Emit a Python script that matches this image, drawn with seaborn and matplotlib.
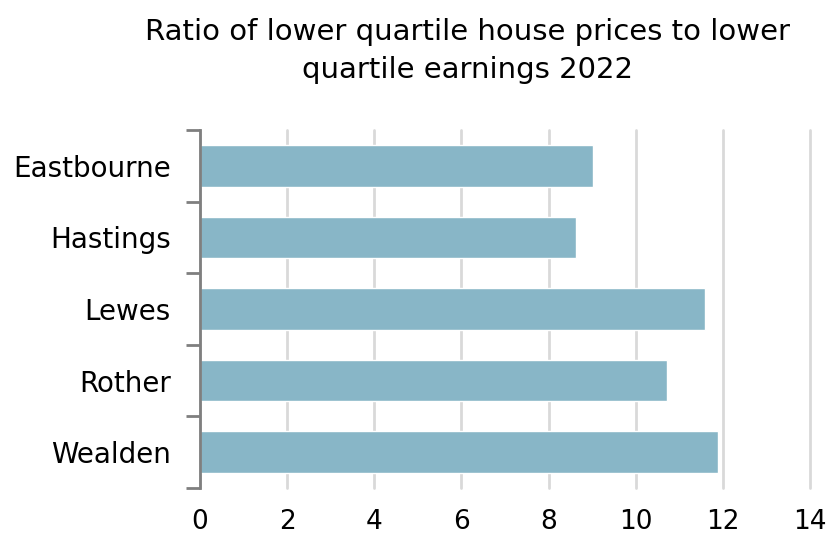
import matplotlib
matplotlib.use("Agg")
import matplotlib.pyplot as plt
import seaborn as sns
import pandas as pd

areas = ["Eastbourne", "Hastings", "Lewes", "Rother", "Wealden"]
ratios = [9.02, 8.62, 11.59, 10.71, 11.88]
x_ticks = [0, 2, 4, 6, 8, 10, 12, 14]
title = "Ratio of lower quartile house prices to lower\nquartile earnings 2022"

sns.set_theme(style="white")
plt.rcParams['font.family'] = ['DejaVu Sans']

df = pd.DataFrame({"area": areas, "ratio": ratios})

fig = plt.figure(figsize=(8.31, 5.4), dpi=100)
ax = fig.add_axes([0.2407, 0.0963, 0.734, 0.663])

sns.barplot(data=df, y="area", x="ratio", orient="h", color="#88b6c7",
            saturation=1, width=0.58, ax=ax, zorder=2)

ax.set_xlim(0, 14)
ax.set_xticks(x_ticks)
ax.set_xticklabels([str(t) for t in x_ticks], fontsize=19, color="black")
ax.set_ylim(4.5, -0.5)
ax.set_yticks([-0.5, 0.5, 1.5, 2.5, 3.5, 4.5], minor=False)
ax.set_yticklabels([])
ax.set_yticks(range(len(areas)), minor=True)
ax.set_yticklabels(areas, minor=True, fontsize=20, color="black")
ax.tick_params(axis="y", which="major", length=10, width=2, color="#7f7f7f", direction="out", left=True)
ax.tick_params(axis="y", which="minor", length=0, pad=21)
ax.tick_params(axis="x", length=0, pad=15)

ax.grid(axis="x", color="#d9d9d9", linewidth=2, zorder=0)
for gl in ax.get_xgridlines():
    gl.set_clip_on(False)
ax.set_axisbelow(True)
for s in ["top", "right", "bottom"]:
    ax.spines[s].set_visible(False)
ax.spines["left"].set_color("#7f7f7f")
ax.spines["left"].set_linewidth(2)
ax.set_xlabel("")
ax.set_ylabel("")

fig.text(0.5625, 0.905, title, ha="center", va="center", fontsize=21, color="black", linespacing=1.45)

fig.savefig("out.png", dpi=100)
